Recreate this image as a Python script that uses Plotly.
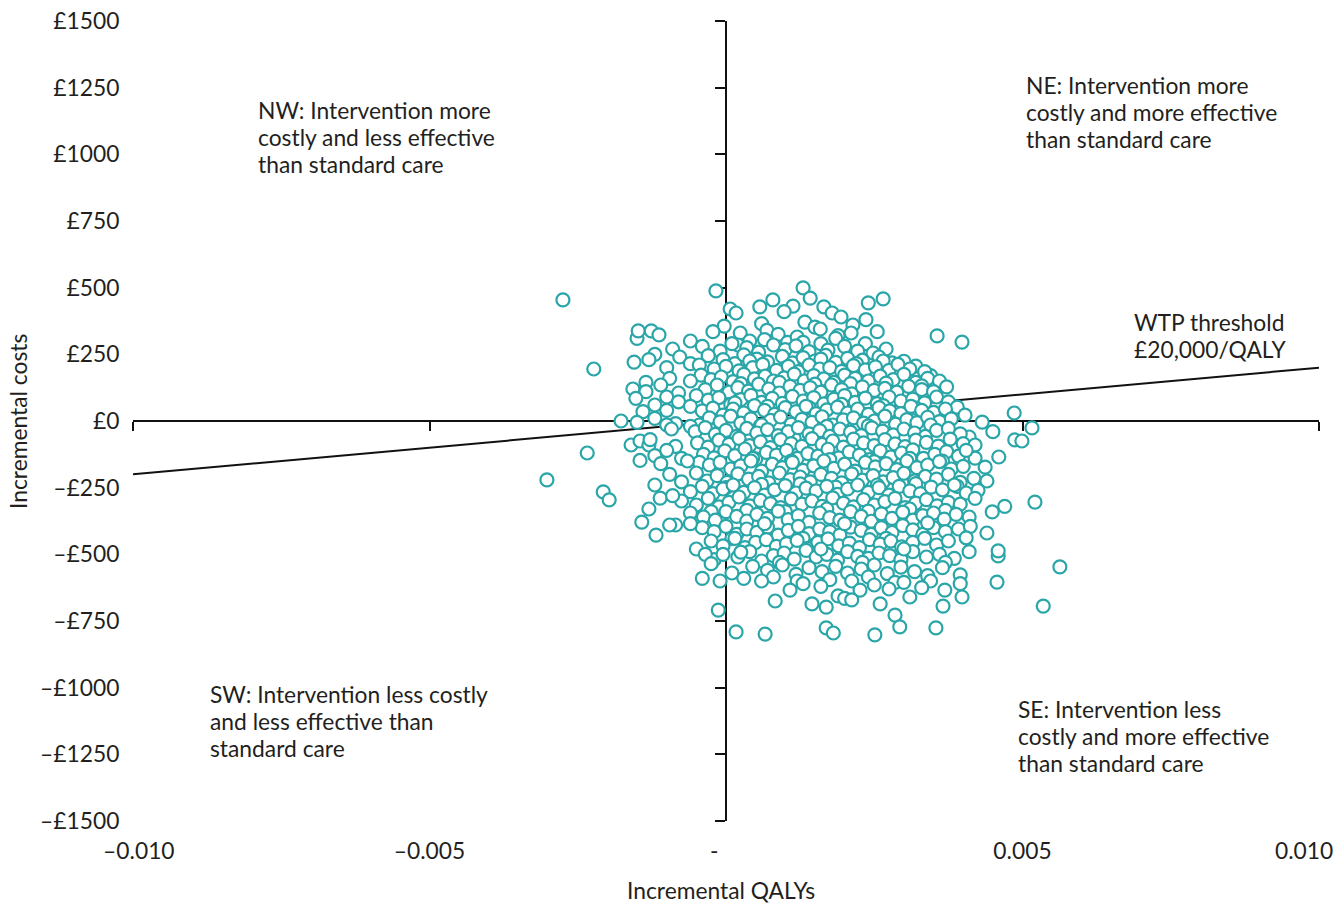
import plotly.graph_objects as go

# Bootstrapped incremental QALYs (in units of 1e-5 QALY), one line per cost band
qaly_e5 = [
    -275, -17, 7, 17, 57, 79, 113, 130, 142, 165, 179, 240, 265,
    -3, 60, 98, 133, 150, 194, 214, 236,
    -150, -148, -126, -113, -22, 24, 40, 69, 88, 104, 120, 159, 189, 211, 255, 356, 398,
    -60, 20, 65, 130, 185, 235,
    -120, -90, -40, -10, 10, 35, 55, 80, 100, 118, 140, 160, 172, 200, 222, 248, 270,
    -155, -78, -30, -5, 15, 30, 52, 70, 95, 112, 130, 150, 168, 185, 205, 230, 258, 280, 300,
    -130, -60, 40, 100, 160, 220, 265, 320, 345,
    -223, -100, -45, -20, 0, 22, 45, 62, 85, 105, 122, 140, 158, 175, 195, 215, 235, 252, 275, 290, 310, 335,
    -135, -95, -42, -25, -8, 12, 30, 48, 66, 80, 98, 115, 132, 148, 165, 182, 200, 218, 240, 260, 282, 300, 320, 340, 360,
    -110, -60, 25, 90, 150, 210, 270, 330, 372,
    -157, -135, -80, -35, -15, 5, 20, 38, 55, 72, 90, 108, 125, 142, 160, 178, 195, 212, 230, 250, 268, 288, 308, 330, 350,
    -152, -100, -50, -30, -12, 8, 25, 42, 60, 78, 95, 112, 130, 148, 165, 182, 200, 218, 235, 255, 275, 295, 315, 335, 355, 375,
    -120, -80, 15, 70, 140, 195, 265, 320, 390,
    -140, -100, -60, -40, -22, -5, 12, 30, 48, 65, 82, 100, 118, 135, 152, 170, 188, 205, 222, 240, 258, 276, 295, 312, 330, 350, 370, 403, 486,
    -177, -150, -120, -85, -45, -28, -10, 8, 25, 42, 58, 75, 92, 110, 128, 145, 162, 180, 198, 215, 232, 250, 268, 286, 305, 322, 340, 360, 380, 432,
    -100, -60, 10, 60, 115, 170, 240, 300, 345, 410, 450,
    -160, -145, -130, -92, -52, -35, -18, 0, 18, 35, 52, 70, 88, 105, 122, 140, 158, 175, 192, 210, 228, 246, 264, 282, 300, 318, 336, 355, 375, 395, 487, 499, 516,
    -128, -85, -48, -30, -12, 5, 22, 40, 58, 75, 92, 110, 128, 145, 162, 180, 198, 215, 232, 250, 268, 285, 302, 320, 338, 358, 378, 400, 420,
    -234, -120, -75, -38, -20, -2, 15, 32, 50, 68, 85, 102, 120, 138, 155, 172, 190, 208, 225, 242, 260, 278, 296, 315, 333, 352, 372, 392, 420,
    -145, -100, -45, 45, 110, 175, 250, 310, 365, 405, 460,
    -110, -65, -28, -10, 8, 25, 42, 60, 78, 95, 112, 130, 148, 165, 182, 200, 218, 235, 252, 270, 288, 305, 322, 340, 360, 380, 400, 437,
    -302, -95, -50, -32, -15, 2, 20, 38, 55, 72, 90, 108, 125, 142, 160, 178, 195, 212, 230, 248, 265, 282, 300, 318, 336, 355, 375, 395, 418,
    -120, -75, 0, 60, 125, 185, 255, 320, 390, 440,
    -207, -111, -60, -40, -22, -5, 12, 30, 48, 65, 82, 100, 118, 135, 152, 170, 188, 205, 222, 240, 258, 275, 292, 310, 328, 346, 365, 385, 405, 425,
    -197, -75, -50, -30, -12, 5, 22, 40, 58, 75, 92, 110, 128, 145, 162, 180, 198, 215, 232, 250, 268, 285, 302, 320, 338, 356, 375, 395, 449, 521,
    -130, -90, -25, 35, 100, 170, 240, 310, 370, 420, 470,
    -142, -85, -60, -38, -18, 0, 18, 35, 52, 70, 88, 105, 122, 140, 158, 175, 192, 210, 228, 245, 262, 280, 298, 315, 332, 350, 368, 388, 410,
    -118, -95, -40, -20, 0, 18, 35, 52, 70, 88, 105, 122, 140, 158, 175, 192, 210, 228, 245, 262, 280, 298, 315, 332, 350, 370, 392, 412,
    -60, 10, 65, 130, 200, 270, 340, 405, 440,
    -50, -25, -5, 15, 32, 50, 68, 85, 102, 120, 138, 155, 172, 190, 208, 225, 242, 260, 278, 296, 315, 335, 355, 375,
    -20, -5, 20, 40, 60, 80, 98, 115, 135, 152, 170, 188, 205, 222, 240, 258, 276, 295, 315, 338, 360, 385, 459, 459,
    -35, 25, 90, 160, 230, 300, 370, 410,
    -40, -25, 10, 45, 70, 95, 118, 140, 162, 185, 205, 228, 250, 272, 295, 318, 340, 365, 395, 563,
    -10, 30, 80, 120, 175, 240, 285, 345, 395,
    -13, 60, 83, 108, 130, 160, 189, 212, 226, 250, 275, 300, 330, 369, 398, 457,
    145, 169, 200, 212, 260, 285, 310, 366, 535,
    17, 66, 169, 181, 251, 293, 354,
]

# Matching incremental costs (GBP)
cost_gbp = [
    454, 488, 420, 405, 428, 454, 431, 499, 461, 428, 405, 443, 458,
    356, 365, 410, 371, 352, 390, 360, 380,
    310, 338, 338, 323, 335, 330, 300, 340, 325, 295, 315, 345, 320, 330, 335, 319, 296,
    300, 285, 305, 295, 310, 290,
    250, 270, 280, 262, 290, 275, 258, 285, 268, 282, 260, 290, 266, 280, 262, 255, 270,
    221, 240, 245, 230, 215, 248, 232, 222, 242, 218, 238, 225, 246, 220, 235, 228, 240, 218, 224,
    230, 215, 225, 198, 232, 215, 225, 206, 170,
    195, 200, 210, 195, 205, 188, 200, 212, 190, 205, 185, 210, 195, 200, 186, 208, 192, 203, 190, 212, 195, 185,
    145, 160, 172, 155, 165, 148, 175, 158, 168, 150, 162, 176, 150, 170, 158, 145, 172, 160, 150, 168, 155, 175, 145, 160, 150,
    135, 150, 140, 145, 138, 140, 142, 132, 128,
    120, 110, 105, 118, 135, 108, 125, 112, 138, 120, 105, 130, 115, 125, 108, 135, 118, 102, 128, 115, 122, 108, 130, 118, 110,
    85, 90, 95, 78, 88, 62, 80, 96, 70, 85, 66, 92, 75, 88, 64, 82, 95, 70, 86, 65, 90, 75, 82, 68, 90, 72,
    60, 72, 68, 55, 50, 62, 58, 48, 52,
    35, 40, 55, 38, 48, 22, 45, 30, 58, 40, 25, 50, 35, 55, 28, 42, 52, 30, 45, 25, 50, 38, 28, 55, 40, 32, 45, 22, 30,
    0, -5, 10, -10, -15, 12, -3, 18, -8, 8, -18, 2, 15, -12, 6, -5, 16, -15, 4, 12, -8, 0, 18, -12, 5, -6, 14, -2, 8, -4,
    -15, -20, -62, -15, -65, -20, -18, -65, -15, -60, -40,
    -90, -75, -90, -30, -40, -25, -50, -35, -58, -28, -45, -32, -55, -40, -25, -48, -36, -58, -30, -42, -55, -26, -38, -52, -30, -45, -58, -35, -28, -48, -71, -75, -26,
    -70, -95, -82, -98, -72, -88, -65, -92, -78, -100, -70, -85, -95, -66, -88, -75, -98, -68, -82, -92, -70, -86, -96, -72, -80, -94, -68, -85, -90,
    -120, -130, -140, -125, -138, -112, -130, -105, -142, -118, -128, -110, -140, -122, -132, -106, -138, -116, -128, -145, -112, -135, -120, -108, -140, -125, -115, -132, -139,
    -148, -110, -155, -140, -150, -145, -152, -140, -150, -110, -135,
    -160, -150, -165, -155, -180, -168, -150, -188, -162, -175, -155, -185, -168, -150, -178, -162, -188, -155, -172, -160, -182, -150, -175, -165, -152, -180, -170, -173,
    -221, -200, -195, -225, -205, -230, -198, -218, -208, -232, -195, -220, -210, -228, -200, -215, -232, -198, -222, -205, -228, -212, -196, -225, -208, -218, -200, -230, -215,
    -240, -228, -250, -238, -236, -248, -240, -235, -245, -225,
    -266, -289, -265, -245, -272, -255, -240, -268, -250, -278, -258, -242, -270, -252, -262, -245, -275, -255, -240, -268, -250, -278, -245, -262, -272, -248, -258, -240, -270, -260,
    -296, -300, -315, -290, -322, -305, -285, -318, -298, -310, -325, -292, -312, -300, -320, -288, -308, -322, -295, -315, -302, -290, -325, -308, -295, -318, -305, -312, -341, -304,
    -330, -280, -340, -335, -340, -330, -338, -330, -335, -290, -320,
    -379, -390, -345, -360, -372, -340, -358, -375, -350, -365, -338, -370, -355, -380, -345, -362, -372, -340, -358, -376, -348, -365, -342, -372, -355, -345, -368, -350, -360,
    -428, -390, -400, -415, -395, -425, -405, -418, -398, -428, -410, -395, -422, -405, -415, -428, -398, -410, -425, -400, -418, -392, -408, -425, -400, -415, -405, -395,
    -385, -440, -385, -440, -385, -440, -382, -438, -420,
    -480, -450, -468, -440, -475, -455, -445, -470, -460, -448, -478, -455, -442, -468, -458, -475, -445, -462, -450, -472, -455, -440, -465, -450,
    -520, -500, -510, -490, -525, -505, -495, -518, -485, -510, -500, -522, -490, -508, -515, -495, -505, -520, -490, -510, -500, -515, -506, -487,
    -500, -492, -530, -480, -530, -480, -530, -490,
    -590, -535, -570, -545, -560, -540, -575, -550, -565, -545, -570, -555, -540, -572, -548, -565, -580, -550, -577, -547,
    -600, -590, -585, -600, -595, -585, -605, -600, -610,
    -709, -600, -675, -634, -610, -620, -656, -600, -634, -615, -630, -605, -625, -634, -660, -604,
    -686, -698, -665, -671, -686, -728, -660, -694, -694,
    -791, -799, -776, -795, -802, -772, -776,
]
assert len(qaly_e5) == len(cost_gbp)

inc_qalys = [v * 1e-5 for v in qaly_e5]

wtp_threshold = 20000  # GBP per QALY
x_range = [-0.010, 0.010]
y_range = [-1500, 1500]

NB = "\u00a0"
x_tickvals = [-0.010, -0.005, 0, 0.005, 0.010]
x_ticktext = [NB * 2 + "\u20130.010", "\u20130.005", "-" + NB * 4, "0.005", ""]
y_tickvals = [-1500, -1250, -1000, -750, -500, -250, 0, 250, 500, 750, 1000, 1250, 1500]
y_ticktext = [("\u2013\u00a3%d" % -v) if v < 0 else ("\u00a3%d" % v) for v in y_tickvals]

FONT = "Lato, 'Open Sans', sans-serif"
FS = 22.8
TXT = "#231f20"
TEAL = "#2aa6a8"

fig = go.Figure()

# invisible trace that carries the crossing axes through the origin
fig.add_trace(go.Scatter(x=[None], y=[None], xaxis="x2", yaxis="y2",
                         showlegend=False, hoverinfo="skip"))

# willingness-to-pay threshold line
fig.add_trace(go.Scatter(
    x=x_range, y=[wtp_threshold * v for v in x_range],
    mode="lines", line=dict(color="#111111", width=2),
    showlegend=False, hoverinfo="skip"))

fig.add_trace(go.Scatter(
    x=inc_qalys, y=cost_gbp, mode="markers",
    marker=dict(symbol="circle", size=13, color="white",
                line=dict(color=TEAL, width=2.2)),
    showlegend=False))

axis_common = dict(showgrid=False, zeroline=False, automargin=False)

fig.update_layout(
    width=1344, height=904,
    margin=dict(l=133, r=25, t=21, b=83),
    paper_bgcolor="white", plot_bgcolor="white",
    font=dict(family=FONT, size=FS, color=TXT),
    xaxis=dict(range=x_range, tickvals=x_tickvals, ticktext=x_ticktext,
               showline=False, ticks="outside", ticklen=10,
               tickcolor="rgba(0,0,0,0)", **axis_common),
    yaxis=dict(range=y_range, tickvals=y_tickvals, ticktext=y_ticktext,
               showline=False, ticks="outside", ticklen=8,
               tickcolor="rgba(0,0,0,0)", **axis_common),
    xaxis2=dict(range=x_range, overlaying="x", anchor="free", position=0.5,
                side="bottom", tickvals=x_tickvals, showticklabels=False,
                showline=True, linecolor="#111111", linewidth=2,
                ticks="outside", ticklen=9, tickwidth=2, tickcolor="#111111",
                layer="below traces", **axis_common),
    yaxis2=dict(range=y_range, overlaying="y", anchor="free", position=0.5,
                side="left", tickvals=y_tickvals, showticklabels=False,
                showline=True, linecolor="#111111", linewidth=2,
                ticks="outside", ticklen=10, tickwidth=2, tickcolor="#111111",
                layer="below traces", **axis_common),
)

# right-most x tick label, pulled inside the page edge
fig.add_annotation(text="0.010", x=1.0, y=0, xref="paper", yref="paper",
                   xanchor="right", yanchor="top", xshift=16, yshift=-13,
                   showarrow=False, font=dict(size=FS, color=TXT))

# quadrant notes: (lines, left x in data units, first-line cost)
notes = [
    (["NW: Intervention more", "costly and less effective", "than standard care"], -0.00792, 1166),
    (["NE: Intervention more", "costly and more effective", "than standard care"], 0.00503, 1260),
    (["SW: Intervention less costly", "and less effective than", "standard care"], -0.00873, -1024),
    (["SE: Intervention less", "costly and more effective", "than standard care"], 0.00489, -1080),
    (["WTP threshold", "\u00a320,000/QALY"], 0.00685, 371),
]
LINE_STEP = 101  # cost units between text lines
for lines, x, y0 in notes:
    for i, line in enumerate(lines):
        fig.add_annotation(text=line, x=x, y=y0 - i * LINE_STEP, xref="x", yref="y",
                           xanchor="left", yanchor="middle", align="left",
                           showarrow=False, font=dict(size=FS, color=TXT))

fig.add_annotation(text="Incremental costs", x=-0.097, y=0.5, xref="paper", yref="paper",
                   textangle=-90, showarrow=False, xanchor="center", yanchor="middle",
                   font=dict(size=FS, color=TXT))
fig.add_annotation(text="Incremental QALYs", x=0.496, y=-0.086, xref="paper", yref="paper",
                   showarrow=False, xanchor="center", yanchor="middle",
                   font=dict(size=FS, color=TXT))

fig.write_html("out.html")
